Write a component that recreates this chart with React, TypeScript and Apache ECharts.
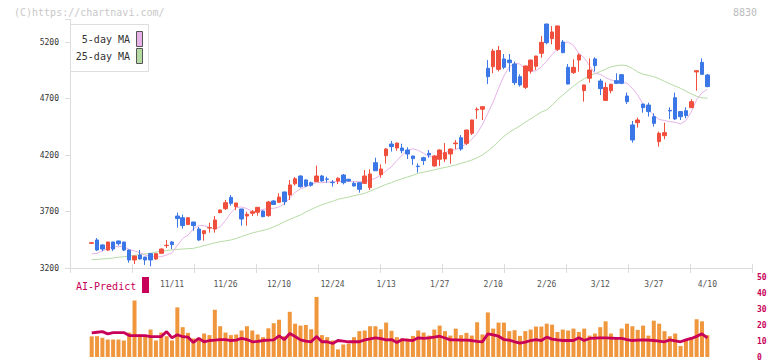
import React, { useEffect, useRef } from 'react';
import * as echarts from 'echarts';

const dates = [
  '10/20','10/21','10/22','10/23','10/24','10/27','10/28','10/29','10/30','10/31',
  '11/4','11/5','11/6','11/7','11/10','11/11','11/12','11/13','11/14','11/17',
  '11/18','11/19','11/20','11/21','11/25','11/26','11/27','11/28','12/1','12/2',
  '12/3','12/4','12/5','12/8','12/9','12/10','12/11','12/12','12/15','12/16',
  '12/17','12/18','12/19','12/22','12/23','12/24','12/25','12/26','12/29','12/30',
  '1/5','1/6','1/7','1/8','1/9','1/13','1/14','1/15','1/16','1/19',
  '1/20','1/21','1/22','1/23','1/26','1/27','1/28','1/29','1/30','2/2',
  '2/3','2/4','2/5','2/6','2/9','2/10','2/12','2/13','2/16','2/17',
  '2/18','2/19','2/20','2/24','2/25','2/26','2/27','3/2','3/3','3/4',
  '3/5','3/6','3/9','3/10','3/11','3/12','3/13','3/16','3/17','3/18',
  '3/19','3/23','3/24','3/25','3/26','3/27','3/30','3/31','4/1','4/2',
  '4/3','4/6','4/7','4/8','4/9','4/10'
];

const open = [
  3418,3448,3404,3359,3430,3439,3430,3359,3271,3315,
  3297,3327,3280,3330,3398,3430,3660,3645,3584,3607,
  3545,3504,3554,3545,3690,3725,3825,3743,3722,3660,
  3684,3693,3704,3663,3793,3781,3873,3846,3945,4014,
  3979,3955,3964,4014,3988,3958,3970,4023,3985,3949,
  3955,3949,3911,4132,4026,4194,4297,4262,4262,4244,
  4191,4102,4176,4215,4103,4162,4165,4209,4300,4353,
  4303,4392,4600,4605,4967,4982,4958,5050,5040,5005,
  4893,4799,4943,4985,5100,5359,5230,5135,5200,4976,
  4929,5040,4770,4879,5050,4855,4683,4769,4858,4911,
  4722,4466,4486,4651,4642,4539,4318,4371,4595,4707,
  4584,4592,4619,4935,5020,4908
];
const close = [
  3424,3359,3368,3430,3368,3415,3359,3271,3306,3280,
  3271,3271,3327,3368,3401,3407,3637,3575,3645,3575,
  3448,3530,3557,3625,3713,3778,3772,3775,3634,3675,
  3698,3737,3654,3784,3763,3828,3787,3935,3990,3920,
  3926,3932,4014,3970,3985,3955,3994,3955,3970,3926,
  3896,4014,4032,4061,4076,4253,4274,4306,4238,4209,
  4168,4097,4150,4200,4191,4244,4221,4253,4306,4253,
  4421,4510,4605,4628,4893,5120,5125,4976,5017,4840,
  4820,4988,5040,5076,5197,5194,5289,5342,5106,4828,
  4976,5085,4820,4952,4991,4787,4798,4826,4834,4834,
  4672,4333,4510,4619,4584,4480,4392,4398,4590,4519,
  4539,4548,4672,4946,4914,4805
];
const low = [
  3412,3350,3350,3350,3350,3398,3350,3247,3235,3275,
  3227,3215,3271,3328,3377,3368,3557,3548,3580,3530,
  3440,3442,3513,3513,3684,3713,3752,3713,3575,3575,
  3660,3663,3650,3654,3757,3779,3758,3802,3930,3910,
  3915,3920,3962,3965,3955,3920,3943,3940,3965,3920,
  3867,3945,3890,4058,3999,4123,4230,4238,4215,4165,
  4112,4044,4112,4176,4097,4103,4138,4123,4253,4238,
  4288,4377,4519,4510,4828,4923,4940,4960,4937,4820,
  4805,4784,4920,4952,5061,5180,5180,5120,5100,4826,
  4917,4938,4672,4840,4938,4731,4681,4746,4828,4826,
  4652,4309,4442,4575,4540,4451,4274,4339,4519,4510,
  4510,4525,4617,4769,4910,4800
];
const high = [
  3430,3465,3410,3432,3432,3442,3432,3362,3308,3359,
  3299,3333,3329,3374,3448,3439,3690,3672,3647,3609,
  3563,3532,3601,3660,3719,3802,3846,3777,3724,3698,
  3713,3739,3713,3793,3802,3861,3875,3979,4005,4020,
  3985,3964,4106,4023,4008,3979,4002,4032,3990,3964,
  3958,4067,4073,4176,4117,4259,4324,4309,4300,4268,
  4193,4126,4185,4244,4200,4250,4306,4259,4333,4377,
  4423,4512,4622,4630,5040,5140,5165,5094,5094,5026,
  4914,4990,5045,5078,5253,5362,5342,5345,5218,5005,
  5047,5100,4822,5055,5065,4873,4842,4830,4923,4917,
  4752,4501,4531,4653,4663,4569,4407,4486,4622,4752,
  4586,4622,4693,4950,5055,4917
];

const ma5 = [
  3325,3330,3350,3375,3389,3389,3389,3365,3350,3336,
  3315,3300,3298,3300,3315,3335,3400,3460,3492,3545,
  3575,3575,3560,3542,3566,3620,3690,3735,3740,3725,
  3700,3705,3718,3728,3728,3740,3770,3820,3870,3900,
  3920,3940,3958,3955,3960,3964,3966,3967,3966,3964,
  3965,3968,3975,3995,4023,4060,4097,4150,4200,4240,
  4255,4240,4215,4185,4185,4205,4220,4238,4248,4270,
  4300,4340,4392,4470,4570,4670,4790,4900,4980,5011,
  5005,4960,4940,4945,4980,5030,5090,5135,5188,5200,
  5170,5100,5060,4990,4920,4915,4885,4864,4855,4845,
  4834,4790,4730,4650,4600,4550,4515,4505,4495,4490,
  4475,4505,4580,4690,4750,4781
];
const ma25 = [
  3275,3277,3280,3283,3288,3295,3300,3306,3312,3318,
  3325,3332,3340,3348,3355,3360,3365,3368,3371,3374,
  3385,3398,3410,3422,3433,3440,3448,3462,3478,3495,
  3510,3522,3533,3545,3565,3585,3610,3630,3650,3669,
  3695,3719,3740,3760,3775,3790,3808,3818,3828,3840,
  3850,3861,3880,3900,3920,3940,3955,3975,3990,4005,
  4020,4038,4048,4058,4068,4080,4090,4100,4112,4126,
  4140,4155,4175,4200,4235,4274,4320,4365,4400,4430,
  4457,4490,4520,4550,4580,4600,4640,4690,4730,4770,
  4810,4845,4875,4900,4920,4938,4960,4980,4990,4996,
  4990,4965,4935,4915,4905,4893,4875,4852,4830,4810,
  4790,4765,4740,4720,4706,4702
];
const volume = [
  13,13.1,12.1,11,11,11,10.4,15.4,35.6,14.2,
  13.1,17.3,10.4,15.4,13.1,10.4,31.3,18.8,15.2,11.7,
  12.1,14.8,13.8,29.8,19.4,15.4,13.8,14.2,16.7,19.4,
  16.7,14.2,12.5,18.1,21.3,23.5,13.1,28.5,21,19.8,
  20.2,17.5,37.9,13.8,12.5,10.4,4.8,7.9,8.5,12.5,
  16.3,16.7,19.4,19.4,17.5,21.7,16.5,12.5,11.7,11.7,
  13.3,16.7,15.4,13.5,17.3,19.8,16.3,13.5,17.9,13.8,
  15.2,13.5,21.9,14.2,28.1,17.9,21.7,21.7,16.3,16.9,
  13.3,16.3,17.3,19.2,19.2,21,20.4,15.8,17.3,16.7,
  17.9,15.8,17.9,13.5,14.8,18.8,22.5,14.8,12.1,17.9,
  21,19.4,17.1,19.8,13.5,22.9,21,16.3,13.1,14.8,
  6.9,10.4,12.5,23.8,22.5,13.8
];
const aiPredict = [
  15.2,15.6,16.0,14.6,15.4,15.4,15.4,13.5,13.5,13.5,
  13.5,12.9,12.9,12.9,16.0,12.1,14.0,12.8,12.5,9.2,
  11.7,9.6,10.4,10.6,11.0,11.0,10.4,10.6,11.7,11.0,
  9.6,9.8,10.4,10.6,10.8,13.3,11.0,14.8,12.9,10.8,
  10.0,9.6,12.9,9.6,9.6,8.5,10.4,10.0,9.6,9.6,
  9.6,10.8,11.5,12.1,11.6,10.8,11.0,9.2,11.0,10.6,
  10.4,12.1,11.7,12.0,12.6,13.1,12.0,10.8,10.8,10.6,
  10.6,10.4,9.8,9.6,14.6,14.0,13.1,11.0,10.6,9.6,
  8.8,9.4,10.4,11.0,10.4,12.5,11.3,10.8,10.4,10.4,
  10.4,12.1,10.4,11.7,11.9,12.1,12.0,11.9,11.8,11.7,
  11.0,10.4,10.6,10.8,10.6,10.4,10.0,9.6,10.8,10.2,
  9.6,10.8,11.7,13.0,14.6,12.1
];

const priceTicks = [3200, 3700, 4200, 4700, 5200];
const volumeTicks = [0, 10, 20, 30, 40, 50];
const labelStart = 15;
const labelEvery = 10;

const MONO = 'DejaVu Sans Mono';
const UP = '#f14f3d';
const DOWN = '#3b77e6';
const MA5_COLOR = '#e8b2e8';
const MA25_COLOR = '#b5dba3';
const VOL_COLOR = '#f0963c';
const AI_COLOR = '#c8005a';
const AXIS_COLOR = '#dcdcdc';

export default function App() {
  const ref = useRef<HTMLDivElement>(null);
  useEffect(() => {
    if (!ref.current) return;
    const chart = echarts.init(ref.current, undefined, { renderer: 'svg' });
    const candleData = dates.map((_, i) => [open[i], close[i], low[i], high[i]]);
    const mainLeft = 89.02;
    const mainRight = 62.0;
    const priceTop = 19.4;
    const priceHeight = 248.6;
    const rightAxisX = 752;
    chart.setOption({
      animation: false,
      backgroundColor: '#fff',
      grid: [
        { left: mainLeft, right: mainRight, top: priceTop, height: priceHeight },
        { left: mainLeft, right: mainRight, top: 277.7, height: 80 },
        { left: 70, right: 20, top: priceTop, height: priceHeight },
        { left: 70, right: 20, top: priceTop, height: priceHeight },
      ],
      xAxis: [
        {
          type: 'category', gridIndex: 0, data: dates, boundaryGap: true,
          axisLine: { show: false }, axisTick: { show: false }, splitLine: { show: false },
          axisLabel: {
            interval: (idx: number) => idx >= labelStart && (idx - labelStart) % labelEvery === 0,
            color: '#555', fontSize: 8, fontFamily: MONO, margin: 12,
          },
        },
        { type: 'category', gridIndex: 1, data: dates, boundaryGap: true, show: false },
        {
          type: 'value', gridIndex: 2, min: 0, max: 11, interval: 1,
          axisLine: { show: true, lineStyle: { color: AXIS_COLOR } },
          axisTick: { show: true, length: 5, lineStyle: { color: AXIS_COLOR } },
          axisLabel: { show: false }, splitLine: { show: false },
        },
        {
          type: 'value', gridIndex: 3, min: 0, max: 11, interval: 1,
          axisLine: { show: false },
          axisTick: { show: true, inside: true, length: 4, lineStyle: { color: AXIS_COLOR } },
          axisLabel: { show: false }, splitLine: { show: false },
        },
      ],
      yAxis: [
        {
          type: 'value', gridIndex: 0, min: 3200, max: 5400, interval: 500, offset: mainLeft - 70,
          axisLine: { show: true, lineStyle: { color: AXIS_COLOR } },
          axisTick: { show: true, length: 5, lineStyle: { color: AXIS_COLOR } },
          splitLine: { show: false },
          axisLabel: {
            color: '#333', fontSize: 8, fontFamily: MONO, margin: 11,
            formatter: (v: number) => (priceTicks.includes(v) ? String(v) : ''),
          },
        },
        {
          type: 'value', gridIndex: 1, position: 'right', min: 0, max: 50, interval: 10,
          offset: rightAxisX - (772 - mainRight),
          axisLine: { show: false }, axisTick: { show: false }, splitLine: { show: false },
          axisLabel: {
            color: AI_COLOR, fontSize: 8, fontFamily: MONO, fontWeight: 'bold', margin: 5,
            formatter: (v: number) => (volumeTicks.includes(v) ? String(v) : ''),
          },
        },
        { type: 'value', gridIndex: 2, show: false, min: 0, max: 1 },
        { type: 'value', gridIndex: 3, show: false, min: 0, max: 1 },
      ],
      series: [
        {
          type: 'line', name: '25-day MA', xAxisIndex: 0, yAxisIndex: 0, data: ma25,
          symbol: 'none', lineStyle: { color: MA25_COLOR, width: 1 }, z: 1,
        },
        {
          type: 'line', name: '5-day MA', xAxisIndex: 0, yAxisIndex: 0, data: ma5,
          symbol: 'none', lineStyle: { color: MA5_COLOR, width: 1 }, z: 1,
        },
        {
          type: 'candlestick', name: 'price', xAxisIndex: 0, yAxisIndex: 0, data: candleData,
          barWidth: 4, z: 3,
          itemStyle: { color: UP, color0: DOWN, borderColor: UP, borderColor0: DOWN, borderWidth: 1 },
        },
        {
          type: 'bar', name: 'volume', xAxisIndex: 1, yAxisIndex: 1, data: volume,
          barWidth: 4, itemStyle: { color: VOL_COLOR }, z: 1,
        },
        {
          type: 'line', name: 'AI-Predict', xAxisIndex: 1, yAxisIndex: 1, data: aiPredict,
          symbol: 'none', lineStyle: { color: AI_COLOR, width: 2.8 }, z: 3,
        },
      ],
      graphic: [
        {
          type: 'text', x: 14, y: 12, z: 100,
          style: { text: '(C)https://chartnavi.com/', fill: '#c8c8c8', font: `10px "${MONO}"`, verticalAlign: 'middle' },
        },
        {
          type: 'text', x: 757, y: 12, z: 100,
          style: { text: '8830', fill: '#bbbbbb', font: `10px "${MONO}"`, align: 'right', verticalAlign: 'middle' },
        },
        {
          type: 'rect', z: 100, shape: { x: 70.5, y: 24.5, width: 78, height: 47 },
          style: { fill: '#fff', stroke: '#dddddd', lineWidth: 1 },
        },
        {
          type: 'text', x: 130, y: 39, z: 101,
          style: { text: '5-day MA', fill: '#333', font: `10px "${MONO}"`, align: 'right', verticalAlign: 'middle' },
        },
        {
          type: 'rect', z: 101, shape: { x: 136.5, y: 31.5, width: 6, height: 15 },
          style: { fill: MA5_COLOR, stroke: '#555', lineWidth: 1 },
        },
        {
          type: 'text', x: 130, y: 56, z: 101,
          style: { text: '25-day MA', fill: '#333', font: `10px "${MONO}"`, align: 'right', verticalAlign: 'middle' },
        },
        {
          type: 'rect', z: 101, shape: { x: 136.5, y: 48.5, width: 6, height: 15 },
          style: { fill: MA25_COLOR, stroke: '#555', lineWidth: 1 },
        },
        {
          type: 'text', x: 76, y: 286, z: 101,
          style: { text: 'AI-Predict', fill: AI_COLOR, font: `10px "${MONO}"`, verticalAlign: 'middle' },
        },
        {
          type: 'rect', z: 101, shape: { x: 142, y: 277, width: 7, height: 16 },
          style: { fill: AI_COLOR },
        },
      ],
    });
    return () => chart.dispose();
  }, []);
  return (
    <div
      ref={ref}
      style={{ position: 'fixed', left: 0, top: 0, width: 772, height: 361, background: '#fff' }}
    />
  );
}
